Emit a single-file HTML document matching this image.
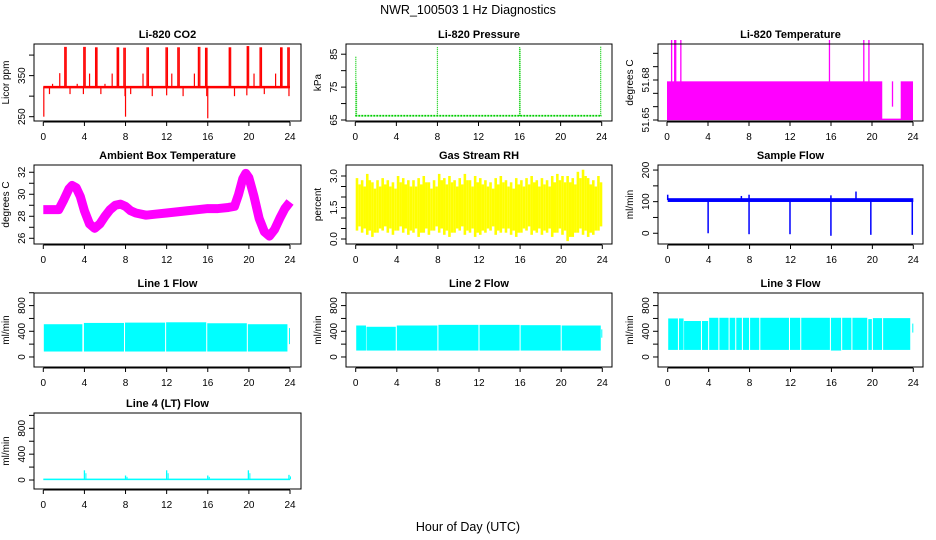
<!DOCTYPE html>
<html><head><meta charset="utf-8">
<style>
body{margin:0;background:#fff;}
svg{display:block;font-family:"Liberation Sans",Arial,sans-serif;}
</style></head>
<body>
<svg id="chart" width="936" height="540" viewBox="0 0 936 540" xmlns="http://www.w3.org/2000/svg">
<rect x="0" y="0" width="936" height="540" fill="#fff"/>
<text x="468" y="14" text-anchor="middle" font-size="12.5">NWR_100503  1 Hz Diagnostics</text>
<text x="468" y="531" text-anchor="middle" font-size="12.5">Hour of Day (UTC)</text>
</svg>
<script>
// ---- data ----
const xTicks = [0,4,8,12,16,20,24];
// CO2
const co2Base = 322;
const co2SpikeHours = [2.1,3.95,5.1,7.2,7.85,10.1,11.95,13.1,15.1,15.8,18.1,19.85,21.1,23.1,23.8];
const co2SpikeVals  = [420,420,419,419,418,419,419,419,420,418,419,422,419,419,419];
const co2SmallHours = [1.6,4.5,6.7,9.7,12.5,14.7,20.5,22.6,0.9,3.3,6.0];
const co2SmallVals  = [356,355,355,355,355,355,355,355,330,330,330];
const co2DipHours = [0.05,8.0,16.0,0.6,2.6,3.9,5.6,8.5,10.6,12.0,13.6,18.6,19.8,21.5,23.9,7.95,15.9];
const co2DipVals  = [250,250,246,305,305,305,305,305,300,302,300,300,302,305,300,300,300];
// Pressure
const presBase = 66.3;
const presSpikeHours = [0.05,0.12,8.0,16.0,16.05,23.9];
const presSpikeVals  = [84.5,76.5,87.2,87.2,87,87.5];
// Li-820 temperature
const tempBandStart = [0.0,22.8];
const tempBandEnd   = [21.0,24.0];
const tempBandLo = [51.65,51.65];
const tempBandHi = [51.679,51.679];
const tempFloor = 51.6505;
const tempSpikeHours = [0.45,0.75,0.85,1.35,15.85,19.2,19.7,22.0];
const tempSpikeVals  = [51.71,51.71,51.71,51.71,51.71,51.71,51.71,51.679];
// Ambient box temperature
const ambHours = [0,0.5,1,1.5,2,2.5,2.8,3.2,3.6,4,4.5,5,5.5,6,6.5,7,7.5,8,8.5,9,10,11,12,13,14,15,16,17,18,18.6,19,19.4,19.7,20,20.5,21,21.5,22,22.5,23,23.5,24];
const ambVals  = [28.6,28.6,28.6,28.6,29.5,30.5,30.8,30.6,29.8,28.5,27.3,26.9,27.3,28.0,28.6,29.0,29.1,28.9,28.5,28.3,28.1,28.2,28.3,28.4,28.5,28.6,28.7,28.7,28.8,28.9,30.0,31.4,31.9,31.5,29.8,27.8,26.6,26.2,26.8,27.8,28.7,29.3];
// Gas stream RH (half-hour bins)
const rhLo = [0.4,0.3,0.2,0.1,0.3,0.4,0.3,0.2,0.4,0.3,0.2,0.3,0.1,0.3,0.2,0.4,0.3,0.2,0.1,0.3,0.4,0.2,0.3,0.1,0.2,0.3,0.4,0.2,0.3,0.3,0.2,0.1,0.3,0.4,0.2,0.3,0.2,0.3,0.1,0.3,0.2,-0.1,0.1,0.3,0.2,0.1,0.2,0.4];
const rhHi = [2.9,2.8,3.1,2.7,2.8,2.9,2.8,2.7,3.0,2.9,2.8,2.8,2.9,3.0,2.7,2.8,3.1,2.9,3.0,2.8,2.9,3.1,2.8,3.0,2.9,2.8,2.7,2.9,3.0,2.8,2.7,2.9,2.8,2.9,3.0,2.8,2.9,2.8,3.0,3.1,3.0,3.0,2.9,3.2,3.3,2.9,2.8,3.0];
// Sample flow
const sfBase = 105;
const sfDipHours = [3.95,7.95,11.95,15.95,19.85,23.9];
const sfDipVals  = [0,-3,-3,-8,-5,-5];
const sfSpikeHours = [0.0,7.2,7.95,15.95,18.4];
const sfSpikeVals  = [122,118,122,120,132];
// Line flows: segments
const l1Start = [0.05,3.95,7.95,11.95,15.95,19.9,23.9];
const l1End   = [3.8,7.85,11.85,15.85,19.8,23.75,24.0];
const l1Top   = [510,530,535,540,525,510,450];
const l1Bot   = [85,85,85,85,85,85,200];
const l2Start = [0.05,1.05,4.0,8.05,12.05,16.05,20.05,23.9];
const l2End   = [1.0,3.9,7.95,11.95,15.95,19.95,23.85,24.0];
const l2Top   = [490,470,490,500,500,495,490,430];
const l2Bot   = [100,100,100,100,100,100,100,300];
const l3Start = [0.05,1.1,1.6,3.35,4.05,5.05,6.05,6.7,7.35,8.05,9.05,11.95,13.05,15.95,17.05,18.05,19.6,20.05,21.05,23.9];
const l3End   = [1.0,1.55,3.25,3.95,4.95,5.95,6.6,7.25,7.95,8.95,11.85,12.95,15.85,16.95,17.95,19.5,19.95,20.95,23.7,24.0];
const l3Top   = [600,600,560,560,610,610,610,610,610,610,610,610,610,610,610,610,590,605,605,520];
const l3Bot   = [110,110,110,110,110,110,110,110,110,110,110,110,110,100,110,110,110,110,110,380];
// Line 4 flow
const l4Base = 10;
const l4SpikeHours = [4.0,8.0,12.0,16.0,19.95,23.9];
const l4SpikeVals  = [150,70,150,70,150,80];

// ---- drawing ----
const NS = "http://www.w3.org/2000/svg";
const svg = document.getElementById('chart');
function mk(tag, attrs, parent){
  const e = document.createElementNS(NS, tag);
  for (const k in attrs) e.setAttribute(k, attrs[k]);
  (parent||svg).appendChild(e);
  return e;
}
function panel(cfg){
  const g = mk('g', {});
  
  
  const [bx0,by0,bx1,by1] = cfg.box;
  const sx = h => cfg.x0 + h/24*(cfg.x24-cfg.x0);
  const sy = v => by0 + (cfg.ymax - v)/(cfg.ymax-cfg.ymin)*(by1-by0);
  const plot = mk('g', {}, g);
  
  
  cfg.draw(plot, sx, sy);
  const box = mk('rect', {x:bx0,y:by0,width:bx1-bx0,height:by1-by0,fill:'none',stroke:'#000','stroke-width':1}, g);
  
  
  const t = mk('text', {x:(bx0+bx1)/2,y:by0-6,'text-anchor':'middle','font-size':11,'font-weight':'bold'}, g);
  
  
  t.textContent = cfg.title;
  const xa = mk('g', {}, g);
  
  
  mk('line', {x1:sx(0),x2:sx(24),y1:by1+1,y2:by1+1,stroke:'#000'}, xa);
  xTicks.forEach(h=>{
    mk('line', {x1:sx(h),x2:sx(h),y1:by1+1,y2:by1+5,stroke:'#000'}, xa);
    const l = mk('text', {x:sx(h),y:by1+19,'text-anchor':'middle','font-size':10}, xa);
    
    
    l.textContent = h;
  });
  const ya = mk('g', {}, g);
  
  
  const yt = cfg.yticks;
  mk('line', {x1:bx0,x2:bx0,y1:sy(yt[0]),y2:sy(yt[yt.length-1]),stroke:'#000'}, ya);
  yt.forEach(v=>{ mk('line', {x1:bx0-5,x2:bx0,y1:sy(v),y2:sy(v),stroke:'#000'}, ya); });
  cfg.ylabels.forEach((lab,i)=>{
    const y = sy(cfg.ylabelVals[i]);
    const l = mk('text', {x:0,y:0,'text-anchor':'middle','font-size':10,transform:`translate(${bx0-9},${y}) rotate(-90)`}, ya);
    
    
    l.textContent = lab;
  });
  const yl = mk('text', {x:0,y:0,'text-anchor':'middle','font-size':10,transform:`translate(${bx0-25},${(by0+by1)/2}) rotate(-90)`}, g);
  
  
  yl.textContent = cfg.ylab;
}
function vline(p, x, y1, y2, col, w){ mk('line',{x1:x,x2:x,y1:y1,y2:y2,stroke:col,'stroke-width':w||1.2},p); }
function segs(p, sx, sy, st, en, top, bot){
  st.forEach((s,i)=>{
    mk('rect',{x:sx(s),y:sy(top[i]),width:Math.max(1,sx(en[i])-sx(s)),height:sy(bot[i])-sy(top[i]),fill:'#00ffff'},p);
  });
}
const flowTicks=[0,200,400,600,800,1000];
panel({name:'co2-panel',title:'Li-820 CO2',box:[34,44,301,121],x0:43.3,x24:290,ymin:239.5,ymax:427,
  yticks:[250,300,350,400],ylabels:['250','350'],ylabelVals:[250,350],ylab:'Licor ppm',
  draw:(p,sx,sy)=>{
    const red='#ff0000';
    co2SpikeHours.forEach((h,i)=>{vline(p,sx(h),sy(co2Base),sy(co2SpikeVals[i]),red,1.5);vline(p,sx(h)+1.3,sy(co2Base),sy(co2SpikeVals[i]),red,1.2);});
    co2SmallHours.forEach((h,i)=>vline(p,sx(h),sy(co2Base),sy(co2SmallVals[i]),red,1.2));
    co2DipHours.forEach((h,i)=>vline(p,sx(h),sy(co2Base),sy(co2DipVals[i]),red,1.2));
    mk('line',{x1:sx(0),x2:sx(24),y1:sy(co2Base),y2:sy(co2Base),stroke:red,'stroke-width':2.5},p);
  }});
panel({name:'pressure-panel',title:'Li-820 Pressure',box:[346,44,612,121],x0:355.3,x24:601.7,ymin:64.7,ymax:88.1,
  yticks:[65,70,75,80,85],ylabels:['65','75','85'],ylabelVals:[65,75,85],ylab:'kPa',
  draw:(p,sx,sy)=>{
    const gr='#00cc00';
    mk('line',{x1:sx(0),x2:sx(24),y1:sy(presBase),y2:sy(presBase),stroke:gr,'stroke-width':1.8,'stroke-dasharray':'2 1'},p);
    presSpikeHours.forEach((h,i)=>mk('line',{x1:sx(h),x2:sx(h),y1:sy(presBase),y2:sy(presSpikeVals[i]),stroke:gr,'stroke-width':1.2,'stroke-dasharray':'1 1'},p));
  }});
panel({name:'temperature-panel',title:'Li-820 Temperature',box:[658,44,923,121],x0:667,x24:913,ymin:51.64925,ymax:51.707,
  yticks:[51.65,51.66,51.67,51.68,51.69,51.70],ylabels:['51.65','51.68'],ylabelVals:[51.65,51.68],ylab:'degrees C',
  draw:(p,sx,sy)=>{
    const mg='#ff00ff';
    tempBandStart.forEach((s,i)=>mk('rect',{x:sx(s),y:sy(tempBandHi[i]),width:sx(tempBandEnd[i])-sx(s),height:sy(tempBandLo[i])-sy(tempBandHi[i]),fill:mg},p));
    mk('line',{x1:sx(0),x2:sx(24),y1:sy(tempFloor),y2:sy(tempFloor),stroke:mg,'stroke-width':1.5},p);
    tempSpikeHours.forEach((h,i)=>vline(p,sx(h),sy(51.66),sy(tempSpikeVals[i]),mg,1.3));
  }});
panel({name:'ambient-temperature-panel',title:'Ambient Box Temperature',box:[34,165,301,244],x0:43.3,x24:290,ymin:25.48,ymax:32.66,
  yticks:[26,27,28,29,30,31,32],ylabels:['26','28','30','32'],ylabelVals:[26,28,30,32],ylab:'degrees C',
  draw:(p,sx,sy)=>{
    const pts=ambHours.map((h,i)=>sx(h)+','+sy(ambVals[i])).join(' ');
    mk('polyline',{points:pts,fill:'none',stroke:'#ff00ff','stroke-width':9,'stroke-linejoin':'round','stroke-linecap':'butt'},p);
  }});
panel({name:'gas-rh-panel',title:'Gas Stream RH',box:[346,165,612,244],x0:355.7,x24:602.3,ymin:-0.238,ymax:3.524,
  yticks:[0,0.5,1,1.5,2,2.5,3],ylabels:['0.0','1.5','3.0'],ylabelVals:[0,1.5,3],ylab:'percent',
  draw:(p,sx,sy)=>{
    rhLo.forEach((lo,i)=>{
      const h=i*0.5;
      mk('rect',{x:sx(h),y:sy(rhHi[i]),width:sx(h+0.25)-sx(h),height:sy(lo)-sy(rhHi[i]),fill:'#ffff00'},p);
      mk('rect',{x:sx(h+0.25),y:sy(rhHi[i]-0.3),width:sx(h+0.5)-sx(h+0.25),height:sy(lo+0.2)-sy(rhHi[i]-0.3),fill:'#ffff00'},p);
    });
  }});
panel({name:'sample-flow-panel',title:'Sample Flow',box:[658,165,923,244],x0:667.7,x24:913.3,ymin:-34,ymax:216,
  yticks:[0,50,100,150,200],ylabels:['0','100','200'],ylabelVals:[0,100,200],ylab:'ml/min',
  draw:(p,sx,sy)=>{
    const bl='#0000ff';
    mk('rect',{x:sx(0),y:sy(sfBase+6),width:sx(24)-sx(0),height:sy(sfBase-6)-sy(sfBase+6),fill:bl},p);
    sfDipHours.forEach((h,i)=>vline(p,sx(h),sy(sfBase),sy(sfDipVals[i]),bl,1.5));
    sfSpikeHours.forEach((h,i)=>vline(p,sx(h),sy(sfBase),sy(sfSpikeVals[i]),bl,1.5));
  }});
panel({name:'line1-flow-panel',title:'Line 1 Flow',box:[34,293,301,367],x0:43.3,x24:290,ymin:-156,ymax:996,
  yticks:flowTicks,ylabels:['0','400','800'],ylabelVals:[0,400,800],ylab:'ml/min',
  draw:(p,sx,sy)=>segs(p,sx,sy,l1Start,l1End,l1Top,l1Bot)});
panel({name:'line2-flow-panel',title:'Line 2 Flow',box:[346,293,612,367],x0:355.7,x24:602.3,ymin:-156,ymax:996,
  yticks:flowTicks,ylabels:['0','400','800'],ylabelVals:[0,400,800],ylab:'ml/min',
  draw:(p,sx,sy)=>segs(p,sx,sy,l2Start,l2End,l2Top,l2Bot)});
panel({name:'line3-flow-panel',title:'Line 3 Flow',box:[658,293,923,367],x0:667.7,x24:913.3,ymin:-156,ymax:996,
  yticks:flowTicks,ylabels:['0','400','800'],ylabelVals:[0,400,800],ylab:'ml/min',
  draw:(p,sx,sy)=>segs(p,sx,sy,l3Start,l3End,l3Top,l3Bot)});
panel({name:'line4-flow-panel',title:'Line 4 (LT) Flow',box:[34,413,301,489],x0:43.3,x24:290,ymin:-139,ymax:1037,
  yticks:flowTicks,ylabels:['0','400','800'],ylabelVals:[0,400,800],ylab:'ml/min',
  draw:(p,sx,sy)=>{
    const cy='#00ffff';
    mk('rect',{x:sx(0),y:sy(l4Base+12),width:sx(24)-sx(0),height:sy(l4Base-12)-sy(l4Base+12),fill:cy},p);
    l4SpikeHours.forEach((h,i)=>{vline(p,sx(h),sy(l4Base),sy(l4SpikeVals[i]),cy,1.3);vline(p,sx(h)+1.5,sy(l4Base),sy(l4SpikeVals[i]*0.7),cy,1);});
  }});
</script>
</body></html>
